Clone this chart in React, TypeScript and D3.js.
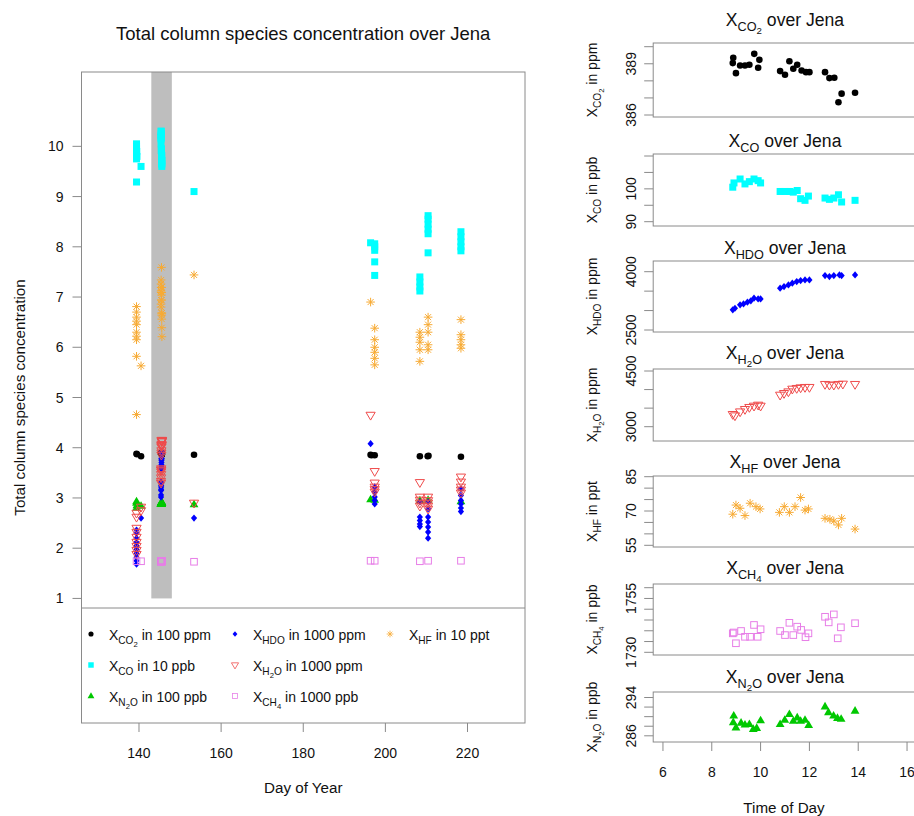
import * as d3 from "d3";

const FONT = "'Liberation Sans', Arial, Helvetica, sans-serif";

type Pt = [number, number];
type Part = [string, number]; // text, subscript level

// ---- main chart: [day of year, value in legend units], shaded day 145 comes from the daily series
const co2Main: Pt[] = [
  [139.4, 3.88], [139.5, 3.87], [140.5, 3.83], [153.4, 3.86],
  [196.4, 3.86], [196.6, 3.85], [197.4, 3.85],
  [208.4, 3.83], [210.3, 3.83], [210.5, 3.84], [218.4, 3.82],
];
const coMain: Pt[] = [
  [139.4, 10.05], [139.4, 10.0], [139.4, 9.95], [139.45, 9.9], [139.4, 9.85], [139.5, 9.8],
  [139.4, 9.75], [139.4, 9.29], [140.5, 9.6], [153.4, 9.1],
  [196.4, 8.08], [197.4, 8.06], [197.4, 8.0], [197.4, 7.93], [197.4, 7.7], [197.4, 7.43],
  [208.4, 7.4], [208.4, 7.3], [208.4, 7.2], [208.4, 7.12],
  [210.4, 8.62], [210.4, 8.55], [210.4, 8.45], [210.4, 8.35], [210.4, 8.26], [210.4, 7.88],
  [218.4, 8.3], [218.4, 8.2], [218.4, 8.1], [218.4, 8.0], [218.4, 7.92],
];
const n2oMain: Pt[] = [
  [139.4, 2.93], [139.4, 2.9], [139.5, 2.85], [139.4, 2.8], [140.5, 2.84], [153.4, 2.87],
  [196.4, 2.97], [197.4, 2.96], [208.4, 2.95], [210.4, 2.96], [218.4, 2.93],
];
const hdoMain: Pt[] = [
  [139.4, 2.36], [139.4, 2.3], [139.4, 2.2], [139.4, 2.12], [139.4, 2.05], [139.4, 1.98],
  [139.4, 1.9], [139.4, 1.82], [139.4, 1.75], [139.4, 1.68], [140.5, 2.6], [153.4, 2.6],
  [196.4, 4.08], [197.4, 3.22], [197.4, 3.12], [197.4, 3.02], [197.4, 2.95], [197.4, 2.88],
  [208.4, 2.92], [208.4, 2.62], [208.4, 2.55], [208.4, 2.48], [208.4, 2.43],
  [210.4, 2.92], [210.4, 2.78], [210.4, 2.62], [210.4, 2.52], [210.4, 2.42], [210.4, 2.32], [210.4, 2.2],
  [218.4, 3.18], [218.4, 3.05], [218.4, 2.95], [218.4, 2.88], [218.4, 2.8], [218.4, 2.73],
];
const h2oMain: Pt[] = [
  [139.4, 2.7], [139.4, 2.62], [139.4, 2.4], [139.4, 2.32], [139.4, 2.22], [139.4, 2.12],
  [139.4, 2.04], [139.4, 1.96], [139.4, 1.88], [140.5, 2.82], [140.5, 2.75], [153.4, 2.9],
  [196.4, 4.65], [197.4, 3.53], [197.4, 3.3], [197.4, 3.22], [197.4, 3.17], [197.4, 3.12],
  [208.4, 3.31], [208.4, 3.02], [208.4, 2.96], [208.4, 2.9], [208.4, 2.84],
  [210.4, 3.02], [210.4, 2.95], [210.4, 2.9], [210.4, 2.84], [210.4, 2.78],
  [218.4, 3.42], [218.4, 3.32], [218.4, 3.22], [218.4, 3.16], [218.4, 3.1],
];
const ch4Main: Pt[] = [
  [139.4, 1.74], [140.5, 1.74], [153.4, 1.73], [196.4, 1.75], [197.4, 1.75],
  [208.4, 1.74], [210.4, 1.75], [218.4, 1.75],
];
const hfMain: Pt[] = [
  [139.4, 6.81], [139.4, 6.7], [139.4, 6.6], [139.4, 6.52], [139.4, 6.45], [139.4, 6.3],
  [139.4, 6.22], [139.4, 6.15], [139.4, 5.82], [139.4, 4.66], [140.5, 5.63], [153.4, 7.44],
  [196.4, 6.9], [197.4, 6.38], [197.4, 6.15], [197.4, 6.0], [197.4, 5.9], [197.4, 5.78], [197.4, 5.65],
  [208.4, 6.3], [208.4, 6.2], [208.4, 6.1], [208.4, 5.95], [208.4, 5.72],
  [210.4, 6.6], [210.4, 6.45], [210.4, 6.3], [210.4, 6.05], [210.4, 5.95],
  [218.4, 6.55], [218.4, 6.25], [218.4, 6.15], [218.4, 6.05], [218.4, 5.98],
];
const shadedDay = 145;
const shadeRange: Pt = [143, 148];

// ---- day 145 over Jena: [time of day in h, value]
const co2Day: Pt[] = [
  [8.88, 389.35], [8.86, 389.04], [8.99, 388.45], [9.16, 388.9], [9.36, 388.9], [9.54, 388.94],
  [9.74, 389.58], [9.95, 389.23], [9.9, 388.77], [10.8, 388.57], [11.0, 388.36], [11.18, 389.15],
  [11.34, 388.71], [11.5, 388.94], [11.68, 388.61], [11.86, 388.51], [12.0, 388.51], [12.64, 388.51],
  [12.82, 388.16], [13.02, 388.18], [13.19, 386.75], [13.32, 387.25], [13.87, 387.3],
];
const coDay: Pt[] = [
  [8.86, 100.5], [8.91, 101.8], [9.16, 103.0], [9.36, 101.5], [9.54, 102.2], [9.73, 103.0],
  [9.9, 102.5], [10.0, 101.8], [10.8, 99.2], [11.0, 99.2], [11.2, 99.2], [11.34, 99.0],
  [11.5, 99.5], [11.64, 97.0], [11.82, 96.5], [11.96, 97.8], [12.64, 97.2], [12.82, 96.8],
  [13.0, 97.2], [13.19, 98.2], [13.32, 96.0], [13.87, 96.5],
];
const hdoDay: Pt[] = [
  [8.86, 3018], [8.95, 3060], [9.16, 3147], [9.3, 3172], [9.46, 3216], [9.6, 3250],
  [9.73, 3319], [9.9, 3300], [10.0, 3300], [10.8, 3576], [10.96, 3617], [11.14, 3660],
  [11.3, 3704], [11.48, 3746], [11.64, 3771], [11.82, 3789], [12.0, 3789], [12.64, 3900],
  [12.82, 3874], [13.0, 3900], [13.23, 3918], [13.32, 3900], [13.87, 3918],
];
const h2oDay: Pt[] = [
  [8.86, 3334], [8.95, 3297], [9.16, 3404], [9.36, 3469], [9.54, 3523], [9.73, 3558],
  [9.9, 3585], [10.0, 3558], [10.8, 3854], [10.96, 3899], [11.14, 3943], [11.3, 4016],
  [11.48, 4035], [11.64, 4051], [11.82, 4062], [12.0, 4062], [12.64, 4143], [12.82, 4124],
  [13.0, 4124], [13.19, 4143], [13.37, 4151], [13.87, 4143],
];
const hfDay: Pt[] = [
  [8.86, 68.6], [8.99, 72.6], [9.16, 71.2], [9.36, 68.0], [9.57, 73.4], [9.81, 71.9],
  [9.98, 70.9], [10.77, 69.4], [10.97, 71.9], [11.18, 69.4], [11.41, 71.9], [11.64, 75.9],
  [11.82, 70.4], [11.96, 70.9], [12.64, 66.8], [12.84, 66.4], [13.0, 65.6], [13.19, 63.9],
  [13.32, 66.8], [13.87, 62.1],
];
const ch4Day: Pt[] = [
  [8.86, 1738.8], [8.9, 1739.2], [8.99, 1734.2], [9.2, 1739.9], [9.36, 1737.2], [9.57, 1737.2],
  [9.73, 1742.7], [9.88, 1737.2], [10.0, 1740.7], [10.8, 1739.9], [11.0, 1738.0], [11.18, 1743.7],
  [11.34, 1738.0], [11.5, 1741.9], [11.66, 1740.4], [11.84, 1737.0], [11.96, 1738.8], [12.64, 1746.5],
  [12.79, 1743.9], [13.0, 1747.6], [13.16, 1736.5], [13.29, 1741.6], [13.87, 1743.5],
];
const n2oDay: Pt[] = [
  [8.9, 290.2], [8.88, 288.8], [8.99, 287.7], [9.2, 288.7], [9.36, 288.3], [9.54, 288.4],
  [9.7, 287.4], [9.84, 287.6], [10.0, 289.2], [10.8, 288.4], [10.99, 289.3], [11.18, 290.5],
  [11.34, 289.1], [11.5, 289.8], [11.64, 289.1], [11.82, 289.3], [11.97, 288.2], [12.64, 292.1],
  [12.78, 290.9], [12.99, 290.2], [13.15, 289.7], [13.3, 289.5], [13.87, 291.2],
];

// ---- labels
const co2Name: Part[] = [["X", 0], ["CO", 1], ["2", 2]];
const coName: Part[] = [["X", 0], ["CO", 1]];
const n2oName: Part[] = [["X", 0], ["N", 1], ["2", 2], ["O", 1]];
const hdoName: Part[] = [["X", 0], ["HDO", 1]];
const h2oName: Part[] = [["X", 0], ["H", 1], ["2", 2], ["O", 1]];
const ch4Name: Part[] = [["X", 0], ["CH", 1], ["4", 2]];
const hfName: Part[] = [["X", 0], ["HF", 1]];

const mainXTicks = [140, 160, 180, 200, 220];
const mainYTicks = [1, 2, 3, 4, 5, 6, 7, 8, 9, 10];
const dayXTicks = [6, 8, 10, 12, 14, 16];

const COL = {
  co2: "#000000",
  co: "#00ffff",
  n2o: "#00c800",
  hdo: "#0000ff",
  h2o: "#ef4b4b",
  ch4: "#e77ee7",
  hf: "#f7aa33",
};
const AXIS = "#8a8a8a";

type Shape = "circle" | "square" | "triUp" | "diamond" | "triDown" | "squareOpen" | "star";

function Mark({ shape, x, y, color, k = 1 }: { shape: Shape; x: number; y: number; color: string; k?: number }) {
  const t = `translate(${x},${y}) scale(${k})`;
  switch (shape) {
    case "circle":
      return <circle cx={x} cy={y} r={3.3 * k} fill={color} />;
    case "square":
      return <rect transform={t} x={-3.5} y={-3.5} width={7} height={7} fill={color} />;
    case "triUp":
      return <path transform={t} d="M0,-4.8L4.4,2.8L-4.4,2.8Z" fill={color} />;
    case "diamond":
      return <path transform={t} d="M0,-3.6L3.1,0L0,3.6L-3.1,0Z" fill={color} />;
    case "triDown":
      return <path transform={t} d="M-4.6,-2.8L4.6,-2.8L0,5Z" fill="none" stroke={color} strokeWidth={1} />;
    case "squareOpen":
      return <rect transform={t} x={-3.3} y={-3.3} width={6.6} height={6.6} fill="none" stroke={color} strokeWidth={1} />;
    default:
      return (
        <path
          transform={t}
          d="M-4.3,0H4.3M0,-4.3V4.3M-3,-3L3,3M-3,3L3,-3"
          stroke={color}
          strokeWidth={1}
          fill="none"
        />
      );
  }
}

function Rich({ parts, size, ...rest }: { parts: Part[]; size: number; [k: string]: any }) {
  let prev = 0;
  return (
    <text fontFamily={FONT} fontSize={size} {...rest}>
      {parts.map(([s, lv], i) => {
        const fs = lv === 0 ? size : lv === 1 ? size * 0.72 : size * 0.55;
        const off = lv === 0 ? 0 : lv === 1 ? size * 0.3 : size * 0.48;
        const dy = off - prev;
        prev = off;
        return (
          <tspan key={i} dy={dy} fontSize={fs} style={{ whiteSpace: "pre" }}>
            {s}
          </tspan>
        );
      })}
    </text>
  );
}

const series = [
  { name: co2Name, unit: " in 100 ppm", main: co2Main, day: co2Day, div: 100, shape: "circle" as Shape, color: COL.co2 },
  { name: coName, unit: " in 10 ppb", main: coMain, day: coDay, div: 10, shape: "square" as Shape, color: COL.co },
  { name: n2oName, unit: " in 100 ppb", main: n2oMain, day: n2oDay, div: 100, shape: "triUp" as Shape, color: COL.n2o },
  { name: hdoName, unit: " in 1000 ppm", main: hdoMain, day: hdoDay, div: 1000, shape: "diamond" as Shape, color: COL.hdo },
  { name: h2oName, unit: " in 1000 ppm", main: h2oMain, day: h2oDay, div: 1000, shape: "triDown" as Shape, color: COL.h2o },
  { name: ch4Name, unit: " in 1000 ppb", main: ch4Main, day: ch4Day, div: 1000, shape: "squareOpen" as Shape, color: COL.ch4 },
  { name: hfName, unit: " in 10 ppt", main: hfMain, day: hfDay, div: 10, shape: "star" as Shape, color: COL.hf },
];

// right-hand panels, in the order they are stacked
const panels = [
  { s: 0, unit: " in ppm", ticks: [386, 387, 388, 389, 390], labels: [386, 389], dom: [386, 390], pix: [115, 46.7], box: [43, 117], titleY: 26 },
  { s: 1, unit: " in ppb", ticks: [90, 95, 100, 105, 110], labels: [90, 100], dom: [90, 110], pix: [221.7, 156], box: [154, 226], titleY: 147 },
  { s: 3, unit: " in ppm", ticks: [2500, 3000, 3500, 4000], labels: [2500, 4000], dom: [2500, 4000], pix: [330, 271.7], box: [261, 332], titleY: 254 },
  { s: 4, unit: " in ppm", ticks: [3000, 3500, 4000, 4500], labels: [3000, 4500], dom: [3000, 4500], pix: [426.7, 371], box: [369, 441], titleY: 359 },
  { s: 6, unit: " in ppt", ticks: [55, 60, 65, 70, 75, 80, 85], labels: [55, 70, 85], dom: [55, 85], pix: [545.3, 476.7], box: [476, 547], titleY: 468 },
  { s: 5, unit: " in ppb", ticks: [1730, 1735, 1740, 1745, 1750, 1755, 1760], labels: [1730, 1755], dom: [1730, 1760], pix: [652.3, 587.7], box: [584, 655], titleY: 574 },
  { s: 2, unit: " in ppb", ticks: [286, 288, 290, 292, 294], labels: [286, 294], dom: [286, 294], pix: [735.8, 697.5], box: [692, 742], titleY: 683 },
];

export default function App() {
  const W = 914;
  const H = 816;

  // main plot
  const mLeft = 81.5, mRight = 525, mTop = 72, mBottom = 723, legTop = 608;
  const x = d3.scaleLinear().domain([126, 234]).range([mLeft, mRight]);
  const y = d3.scaleLinear().domain([-1.48, 11.48]).range([mBottom, mTop]);

  // day panels
  const rLeft = 653.2, rRight = 916.8;
  const tx = d3.scaleLinear().domain([5.6, 16.4]).range([rLeft, rRight]);

  const legendPos = [
    [91, 109, 634], [91, 109, 665], [91, 109, 696],
    [235, 253, 634], [235, 253, 665], [235, 253, 696],
    [390, 409, 634],
  ];

  return (
    <svg
      width={W}
      height={H}
      style={{ position: "absolute", left: 0, top: 0, background: "#fff" }}
      fontFamily={FONT}
    >
      <rect width={W} height={H} fill="#fff" />

      {/* ---------- main chart ---------- */}
      <text x={(mLeft + mRight) / 2} y={40} textAnchor="middle" fontSize={18.5} fill="#111">
        Total column species concentration over Jena
      </text>

      <rect
        x={x(shadeRange[0])}
        y={mTop}
        width={x(shadeRange[1]) - x(shadeRange[0])}
        height={y(1) - mTop}
        fill="#bebebe"
      />

      {series.map((s, si) => {
        const pts: Pt[] = [
          ...s.main,
          ...s.day.map(([t, v]) => [shadedDay + t / 24, v / s.div] as Pt),
        ];
        return (
          <g key={si}>
            {pts.map(([d, v], i) => (
              <Mark key={i} shape={s.shape} x={x(d)} y={y(v)} color={s.color} />
            ))}
          </g>
        );
      })}

      <rect x={mLeft} y={mTop} width={mRight - mLeft} height={mBottom - mTop} fill="none" stroke={AXIS} />
      <line x1={mLeft} x2={mRight} y1={legTop} y2={legTop} stroke={AXIS} />

      {mainYTicks.map((v) => (
        <g key={v}>
          <line x1={mLeft - 9} x2={mLeft} y1={y(v)} y2={y(v)} stroke={AXIS} />
          <text x={mLeft - 18} y={y(v)} dy="0.36em" textAnchor="end" fontSize={14} fill="#111">
            {v}
          </text>
        </g>
      ))}
      {mainXTicks.map((d) => (
        <g key={d}>
          <line x1={x(d)} x2={x(d)} y1={mBottom} y2={mBottom + 9} stroke={AXIS} />
          <text x={x(d)} y={758} textAnchor="middle" fontSize={14} fill="#111">
            {d}
          </text>
        </g>
      ))}
      <text x={(mLeft + mRight) / 2} y={793} textAnchor="middle" fontSize={15.2} fill="#111">
        Day of Year
      </text>
      <text
        transform={`translate(25,${(mTop + mBottom) / 2}) rotate(-90)`}
        textAnchor="middle"
        fontSize={15.2}
        fill="#111"
      >
        Total column species concentration
      </text>

      {series.map((s, si) => {
        const [sx, tx0, ly] = legendPos[si];
        return (
          <g key={si}>
            <Mark shape={s.shape} x={sx} y={ly} color={s.color} k={0.78} />
            <Rich parts={[...s.name, [s.unit, 0]]} size={14} x={tx0} y={ly + 6} fill="#111" />
          </g>
        );
      })}

      {/* ---------- day panels ---------- */}
      {panels.map((p, pi) => {
        const s = series[p.s];
        const py = d3.scaleLinear().domain(p.dom).range(p.pix);
        const [bt, bb] = p.box;
        const last = pi === panels.length - 1;
        return (
          <g key={pi}>
            <Rich
              parts={[...s.name, [" over Jena", 0]]}
              size={17.6}
              x={(rLeft + rRight) / 2}
              y={p.titleY}
              textAnchor="middle"
              fill="#111"
            />
            {s.day.map(([t, v], i) => (
              <Mark key={i} shape={s.shape} x={tx(t)} y={py(v)} color={s.color} />
            ))}
            <rect x={rLeft} y={bt} width={rRight - rLeft} height={bb - bt} fill="none" stroke={AXIS} />
            {p.ticks.map((v) => (
              <line key={v} x1={rLeft - 9} x2={rLeft} y1={py(v)} y2={py(v)} stroke={AXIS} />
            ))}
            {p.labels.map((v) => (
              <text
                key={v}
                transform={`translate(636,${py(v)}) rotate(-90)`}
                textAnchor="middle"
                fontSize={14}
                fill="#111"
              >
                {v}
              </text>
            ))}
            <Rich
              parts={[...s.name, [p.unit, 0]]}
              size={14}
              transform={`translate(597,${(bt + bb) / 2}) rotate(-90)`}
              textAnchor="middle"
              fill="#111"
            />
            {last &&
              dayXTicks.map((t) => (
                <g key={t}>
                  <line x1={tx(t)} x2={tx(t)} y1={bb} y2={bb + 9} stroke={AXIS} />
                  <text x={tx(t)} y={777} textAnchor="middle" fontSize={14} fill="#111">
                    {t}
                  </text>
                </g>
              ))}
          </g>
        );
      })}
      <text x={784} y={813} textAnchor="middle" fontSize={15.2} fill="#111">
        Time of Day
      </text>
    </svg>
  );
}
